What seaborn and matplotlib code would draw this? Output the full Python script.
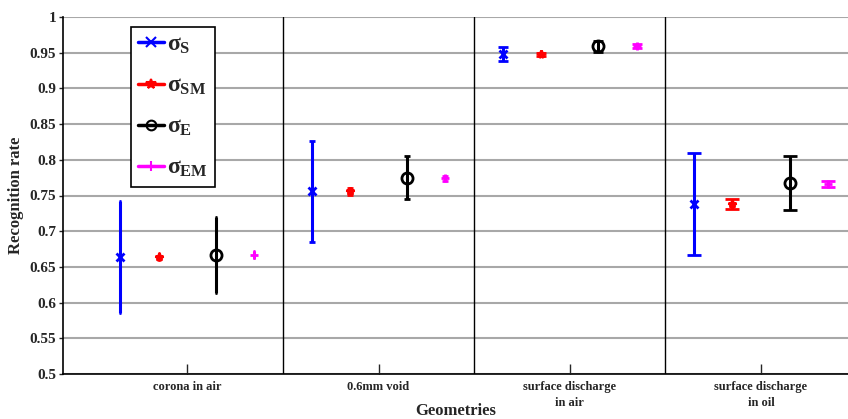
import numpy as np
import pandas as pd
import seaborn as sns
import matplotlib.pyplot as plt
from matplotlib.lines import Line2D

# categories on the x axis
geometries = ['corona in air', '0.6mm void', 'surface discharge\nin air', 'surface discharge\nin oil']
series_names = ['S', 'SM', 'E', 'EM']

# mean recognition rate and half-width of the error bar for every series
sigma_s_mean = [0.664, 0.756, 0.948, 0.738]
sigma_s_err = [0.078, 0.071, 0.010, 0.072]
sigma_sm_mean = [0.664, 0.756, 0.948, 0.738]
sigma_sm_err = [0.005, 0.005, 0.002, 0.007]
sigma_e_mean = [0.667, 0.775, 0.959, 0.767]
sigma_e_err = [0.053, 0.030, 0.008, 0.038]
sigma_em_mean = [0.667, 0.774, 0.959, 0.766]
sigma_em_err = [0.005, 0.003, 0.003, 0.004]

sns.set_style('white')
plt.rcParams['font.family'] = ['Liberation Serif', 'DejaVu Serif']
plt.rcParams['font.weight'] = 'bold'
plt.rcParams['mathtext.fontset'] = 'custom'
plt.rcParams['mathtext.rm'] = 'Liberation Serif:bold'
plt.rcParams['mathtext.it'] = 'Liberation Serif:bold'
plt.rcParams['mathtext.bf'] = 'Liberation Serif:bold'

# long table built from the lists above
rows = []
for name, means, errs in zip(series_names,
                             [sigma_s_mean, sigma_sm_mean, sigma_e_mean, sigma_em_mean],
                             [sigma_s_err, sigma_sm_err, sigma_e_err, sigma_em_err]):
    for i, (m, e) in enumerate(zip(means, errs)):
        rows.append({'series': name, 'geometry': i + 1, 'rate': m, 'err': e})
data = pd.DataFrame(rows)

colors = {'S': '#0000ff', 'SM': '#ff0000', 'E': '#000000', 'EM': '#ff00ff'}
markers = {'S': 'x', 'SM': '*', 'E': 'o', 'EM': '+'}
offsets = {'S': -0.35, 'SM': -0.15, 'E': 0.15, 'EM': 0.35}
capsizes = [1.0, 2.0, 3.3, 4.7]

fig = plt.figure(figsize=(8.48, 4.19), dpi=100)
ax = fig.add_axes([63 / 848, 1 - 374 / 419, 1 - 63 / 848, (374 - 17) / 419])

for name in series_names:
    sub = data[data['series'] == name]
    for _, r in sub.iterrows():
        ax.errorbar(r['geometry'] + offsets[name], r['rate'], yerr=r['err'],
                    color=colors[name], marker=markers[name],
                    markerfacecolor='none' if name == 'E' else colors[name],
                    markersize=8 if name == 'E' else 6, markeredgewidth=2,
                    elinewidth=2.2, capsize=capsizes[int(r['geometry']) - 1],
                    capthick=2.2, linestyle='none', zorder=3)

for xs in [1.5, 2.5, 3.5]:
    ax.axvline(xs, color='black', lw=1, zorder=2)

ax.set_xlim(0.35, 4.455)
ax.set_ylim(0.5, 1.0)
ax.set_yticks(np.arange(0.5, 1.001, 0.05))
ax.set_yticklabels(['0.5', '0.55', '0.6', '0.65', '0.7', '0.75', '0.8', '0.85', '0.9', '0.95', '1'])
ax.set_xticks([1, 2, 3, 4])
ax.set_xticklabels(geometries, fontsize=9, fontweight='bold', linespacing=1.45)
ax.yaxis.grid(True, color='#a8a8a8', lw=1.5, zorder=0)
ax.xaxis.grid(False)
ax.set_axisbelow(True)

for side in ['top', 'right']:
    ax.spines[side].set_visible(False)
for side in ['left', 'bottom']:
    ax.spines[side].set_color('black')
    ax.spines[side].set_linewidth(1.2)

ax.tick_params(axis='y', direction='out', length=3, width=1, labelsize=11, left=True, pad=2)
ax.tick_params(axis='x', direction='in', length=7, width=1, bottom=True, pad=5)
for lab in ax.get_yticklabels():
    lab.set_fontweight('bold')

ax.set_ylabel('Recognition rate', fontsize=12, fontweight='bold', labelpad=4)
ax.set_xlabel('Geometries', fontsize=12, fontweight='bold')
ax.xaxis.set_label_coords(0.5, -0.08)

handles = [Line2D([0], [0], color=colors[n], marker=markers[n], lw=2.5,
                  markerfacecolor='none' if n == 'E' else colors[n],
                  markersize=7, markeredgewidth=1.5) for n in series_names]
labels = [r'$\sigma_{\rm ' + n + '}$' for n in series_names]
leg = ax.legend(handles, labels, loc='upper left', bbox_to_anchor=(0.087, 0.972),
                borderaxespad=0, fontsize=17, handlelength=1.1, handletextpad=0.1,
                labelspacing=0.82, fancybox=False, framealpha=1, edgecolor='black',
                borderpad=0.3)
leg.get_frame().set_linewidth(1.2)

fig.savefig('out.png', dpi=100)
plt.close(fig)
